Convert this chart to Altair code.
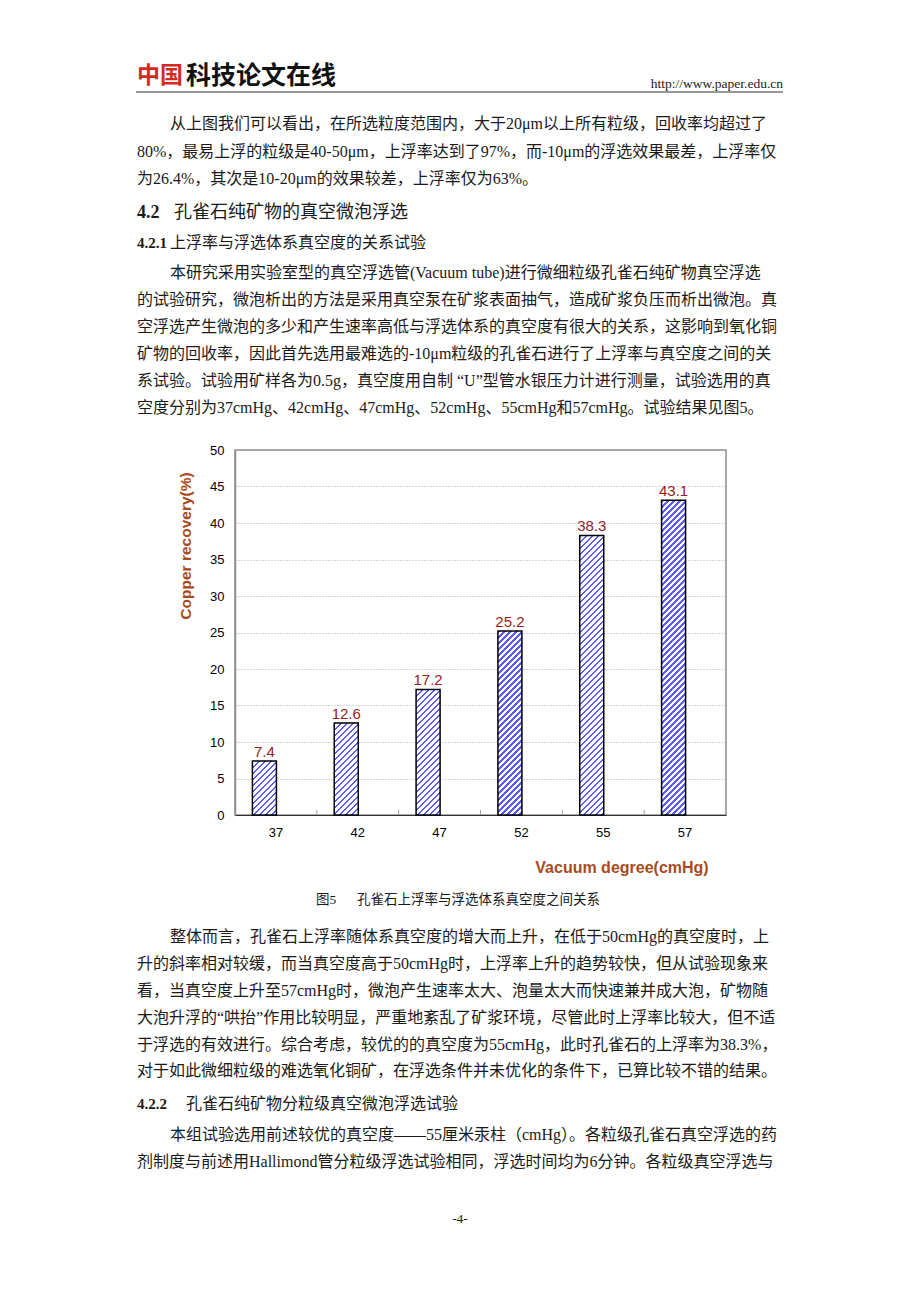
import altair as alt
import pandas as pd

# ---------------- data ----------------
categories = ["37", "42", "47", "52", "55", "57"]
recovery = [7.4, 12.6, 17.2, 25.2, 38.3, 43.1]
y_ticks = [0, 5, 10, 15, 20, 25, 30, 35, 40, 45, 50]

y_title = "Copper recovery(%)"
x_title = "Vacuum degree(cmHg)"

logo_red = "中国"
logo_black = "科技论文在线"
header_url = "http://www.paper.edu.cn"

para1 = [
    "从上图我们可以看出，在所选粒度范围内，大于20μm以上所有粒级，回收率均超过了",
    "80%，最易上浮的粒级是40-50μm，上浮率达到了97%，而-10μm的浮选效果最差，上浮率仅",
    "为26.4%，其次是10-20μm的效果较差，上浮率仅为63%。",
]
h42_num = "4.2"
h42_text = "孔雀石纯矿物的真空微泡浮选"
h421_num = "4.2.1"
h421_text = "上浮率与浮选体系真空度的关系试验"
para2 = [
    "本研究采用实验室型的真空浮选管(Vacuum tube)进行微细粒级孔雀石纯矿物真空浮选",
    "的试验研究，微泡析出的方法是采用真空泵在矿浆表面抽气，造成矿浆负压而析出微泡。真",
    "空浮选产生微泡的多少和产生速率高低与浮选体系的真空度有很大的关系，这影响到氧化铜",
    "矿物的回收率，因此首先选用最难选的-10μm粒级的孔雀石进行了上浮率与真空度之间的关",
    "系试验。试验用矿样各为0.5g，真空度用自制 “U”型管水银压力计进行测量，试验选用的真",
    "空度分别为37cmHg、42cmHg、47cmHg、52cmHg、55cmHg和57cmHg。试验结果见图5。",
]
caption_num = "图5"
caption_text = "孔雀石上浮率与浮选体系真空度之间关系"
para3 = [
    "整体而言，孔雀石上浮率随体系真空度的增大而上升，在低于50cmHg的真空度时，上",
    "升的斜率相对较缓，而当真空度高于50cmHg时，上浮率上升的趋势较快，但从试验现象来",
    "看，当真空度上升至57cmHg时，微泡产生速率太大、泡量太大而快速兼并成大泡，矿物随",
    "大泡升浮的“哄抬”作用比较明显，严重地紊乱了矿浆环境，尽管此时上浮率比较大，但不适",
    "于浮选的有效进行。综合考虑，较优的的真空度为55cmHg，此时孔雀石的上浮率为38.3%，",
    "对于如此微细粒级的难选氧化铜矿，在浮选条件并未优化的条件下，已算比较不错的结果。",
]
h422_num = "4.2.2"
h422_text = "孔雀石纯矿物分粒级真空微泡浮选试验"
para4 = [
    "本组试验选用前述较优的真空度——55厘米汞柱（cmHg）。各粒级孔雀石真空浮选的药",
    "剂制度与前述用Hallimond管分粒级浮选试验相同，浮选时间均为6分钟。各粒级真空浮选与",
]
page_number = "-4-"

# ---------------- layout ----------------
PX0, PY0 = 235, 450          # plot origin in page coordinates
W, H = 491, 365
PAGE_W, PAGE_H = 904, 1286
BAR_W = 24
BAR_SHIFT = -11.5

SERIF = "'Liberation Serif', 'Noto Sans CJK SC'"
CJK = "'Noto Sans CJK SC'"
SANS = "'Liberation Sans', Arial"
BROWN = "#A84B1C"
LABEL_RED = "#991B1B"


def tx(x):
    return x - PX0


def ty(y):
    return y - PY0


one = pd.DataFrame({"k": [0]})


def text_layer(s, x, y, size, font=SERIF, weight="normal", color="#1a1a1a",
               align="left", angle=0):
    props = dict(text=s, font=font, fontSize=size, fontWeight=weight,
                 color=color, align=align, baseline="middle")
    if angle:
        props["angle"] = angle
    return alt.Chart(one).mark_text(**props).encode(
        x=alt.value(tx(x)), y=alt.value(ty(y)))


df = pd.DataFrame({"cat": categories, "val": recovery})

x_scale = alt.Scale(paddingInner=0, paddingOuter=0)
y_scale = alt.Scale(domain=[0, 50], nice=False)

x_axis = alt.Axis(labelAngle=0, ticks=False, domainColor="#333333",
                  domainWidth=1.2, labelPadding=11, labelFontSize=13,
                  labelFont=SANS, labelColor="#000000", title=None, grid=False)
y_axis = alt.Axis(values=y_ticks, tickCount=11, ticks=False,
                  domainColor="#8c8c8c",
                  domainWidth=1.5, labelPadding=11, labelFontSize=13,
                  labelFont=SANS, labelColor="#000000", title=None, grid=True,
                  labelOverlap=False,
                  gridColor="#a8a8a8", gridDash=[1, 2], gridWidth=1)

X_ENC = alt.X("cat:N", sort=categories, scale=x_scale, axis=x_axis)
Y_ENC = alt.Y("val:Q", scale=y_scale, axis=y_axis)

layers = []


def hatch(value):
    h = value * H / 50.0
    w = float(BAR_W)
    L = w + h
    den = w * w + h * h
    a = w * L / den
    b = h * L / den
    period = 6.0
    stops = []
    k = 0
    blue = "#5c5cf6"
    white = "#ffffff"
    while k * period < L:
        s = k * period / L
        m = min((k * period + period * 0.4) / L, 1.0)
        e = min((k + 1) * period / L, 1.0)
        stops.append(alt.GradientStop(color=blue, offset=min(s, 1.0)))
        stops.append(alt.GradientStop(color=blue, offset=m))
        stops.append(alt.GradientStop(color=white, offset=m))
        stops.append(alt.GradientStop(color=white, offset=e))
        k += 1
    return alt.LinearGradient(gradient="linear", stops=stops,
                              x1=0, y1=0, x2=a, y2=b)


for c, v in zip(categories, recovery):
    layers.append(
        alt.Chart(df).transform_filter(alt.datum.cat == c).mark_bar(
            width=BAR_W, xOffset=BAR_SHIFT, fill=hatch(v),
            stroke="#000000", strokeWidth=1.5,
        ).encode(x=X_ENC, y=Y_ENC)
    )

# inside tick marks at category boundaries
layers.append(
    alt.Chart(df).mark_rule(color="#a0a0a0", strokeWidth=1).encode(
        x=alt.X("cat:N", sort=categories, scale=x_scale, axis=x_axis,
                bandPosition=0),
        y=alt.value(H - 5), y2=alt.value(H),
    )
)

# value labels
layers.append(
    alt.Chart(df).mark_text(
        dx=BAR_SHIFT, dy=-4, baseline="alphabetic", align="center",
        fontSize=15, font=SANS, color=LABEL_RED,
    ).encode(
        x=X_ENC, y=Y_ENC,
        text=alt.Text("val:Q", format=".1f"),
    )
)

# axis titles
layers.append(text_layer(y_title, 186, 546, 15.5, font=SANS, weight="bold",
                         color=BROWN, align="center", angle=270))
layers.append(text_layer(x_title, 622, 868, 16, font=SANS, weight="bold",
                         color=BROWN, align="center"))

# ---------------- page text ----------------
layers.append(text_layer(logo_red, 137, 76, 23, font=CJK, weight="bold",
                         color="#D42A1E"))
layers.append(text_layer(logo_black, 186, 76, 25, font=CJK, weight="bold",
                         color="#111111"))
layers.append(text_layer(header_url, 783, 84, 13.5, align="right"))
layers.append(
    alt.Chart(one).mark_rule(color="#333333", strokeWidth=1).encode(
        x=alt.value(tx(136)), x2=alt.value(tx(783)), y=alt.value(ty(92)))
)

BODY = 16
for i, (s, y) in enumerate(zip(para1, [124, 152, 179])):
    layers.append(text_layer(s, 170 if i == 0 else 137, y, BODY))

layers.append(text_layer(h42_num, 137, 213, 18, weight="bold"))
layers.append(text_layer(h42_text, 174, 213, 18))
layers.append(text_layer(h421_num, 137, 243, 15, weight="bold"))
layers.append(text_layer(h421_text, 170, 243, 16))

for i, (s, y) in enumerate(zip(para2, [273, 300, 327, 354, 381, 408])):
    layers.append(text_layer(s, 170 if i == 0 else 137, y, BODY))

layers.append(text_layer(caption_num, 316, 900, 13.5))
layers.append(text_layer(caption_text, 357, 900, 13.5))

for i, (s, y) in enumerate(zip(para3, [937, 964, 991, 1018, 1045, 1071])):
    layers.append(text_layer(s, 170 if i == 0 else 137, y, BODY))

layers.append(text_layer(h422_num, 137, 1104, 15, weight="bold"))
layers.append(text_layer(h422_text, 186, 1104, 16))

for i, (s, y) in enumerate(zip(para4, [1135, 1162])):
    layers.append(text_layer(s, 170 if i == 0 else 137, y, BODY))

layers.append(text_layer(page_number, 460, 1219, 13.5, align="center"))

chart = alt.layer(*layers).properties(
    width=W,
    height=H,
    autosize=alt.AutoSizeParams(type="none"),
    padding={"left": PX0 - 8, "top": PY0 - 8,
             "right": PAGE_W - (PX0 - 8) - W,
             "bottom": PAGE_H - (PY0 - 8) - H},
    background="#ffffff",
).configure_view(
    stroke="#8c8c8c", strokeWidth=1.5
)

chart.save("out.html", embed_options={"renderer": "svg", "actions": False})
